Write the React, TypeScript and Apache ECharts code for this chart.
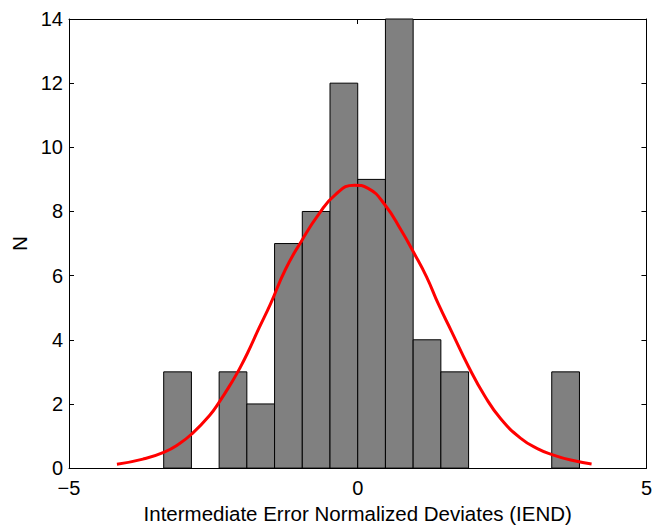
import React, { useEffect, useRef } from "react";
import * as echarts from "echarts";

// Histogram bins (IEND)
const binStart = -3.36;
const binWidth = 0.48;
const binCounts = [3, 0, 3, 2, 7, 8, 12, 9, 14, 4, 3, 0, 0, 0, 3];

// Fitted normal curve
const curveX = [-4.17, -3.72, -3.35, -3.09, -2.87, -2.57, -2.39, -2.17, -2.04, -1.91, -1.71, -1.51, -1.25, -0.97, -0.68, -0.39, -0.06, 0.18, 0.47, 0.76, 0.96, 1.19, 1.4, 1.62, 1.92, 2.2, 2.48, 2.83, 3.12, 3.37, 3.69, 4.05];
const curveY = [0.12, 0.28, 0.5, 0.76, 1.07, 1.63, 2.08, 2.71, 3.12, 3.58, 4.36, 5.12, 6.2, 7.09, 7.9, 8.52, 8.82, 8.72, 8.21, 7.39, 6.75, 5.97, 5.1, 4.28, 3.16, 2.25, 1.53, 0.92, 0.6, 0.42, 0.25, 0.13];

const xTicks = { min: -5, max: 5, interval: 5 };
const yTicks = { min: 0, max: 14, interval: 2 };

const xTitle = "Intermediate Error Normalized Deviates (IEND)";
const yTitle = "N";

export default function App() {
  const ref = useRef<HTMLDivElement>(null);
  useEffect(() => {
    if (!ref.current) return;
    document.body.style.margin = "0";
    const chart = echarts.init(ref.current, undefined, { renderer: "svg", width: 655, height: 529 });
    const font = "'Liberation Sans', Arial, Helvetica, sans-serif";
    const barData = binCounts.map((c, i) => [binStart + i * binWidth, binStart + (i + 1) * binWidth, c]);
    const axisLine = { show: true, onZero: false, lineStyle: { color: "#000", width: 1 } };
    const tick = { show: true, inside: true, length: 5, lineStyle: { color: "#000" } };
    const fmt = (v: number) => String(v).replace("-", "\u2212");
    chart.setOption({
      animation: false,
      backgroundColor: "#fff",
      grid: { left: 69, right: 7, top: 19, bottom: 52, containLabel: false },
      xAxis: [
        {
          type: "value",
          min: xTicks.min,
          max: xTicks.max,
          interval: xTicks.interval,
          position: "bottom",
          axisLine,
          axisTick: tick,
          axisLabel: { color: "#000", fontSize: 20, lineHeight: 16, fontFamily: font, margin: 12, formatter: fmt },
          splitLine: { show: false },
          name: xTitle,
          nameLocation: "middle",
          nameGap: 31,
          nameTextStyle: { color: "#000", fontSize: 20.5, fontFamily: font },
        },
        {
          type: "value",
          min: xTicks.min,
          max: xTicks.max,
          interval: xTicks.interval,
          position: "top",
          axisLine,
          axisTick: tick,
          axisLabel: { show: false },
          splitLine: { show: false },
        },
      ],
      yAxis: [
        {
          type: "value",
          min: yTicks.min,
          max: yTicks.max,
          interval: yTicks.interval,
          position: "left",
          axisLine,
          axisTick: tick,
          axisLabel: { color: "#000", fontSize: 20, lineHeight: 16, fontFamily: font, margin: 6 },
          splitLine: { show: false },
          name: yTitle,
          nameLocation: "middle",
          nameGap: 36,
          nameRotate: 90,
          nameTextStyle: { color: "#000", fontSize: 20.5, fontFamily: font },
        },
        {
          type: "value",
          min: yTicks.min,
          max: yTicks.max,
          interval: yTicks.interval,
          position: "right",
          axisLine,
          axisTick: tick,
          axisLabel: { show: false },
          splitLine: { show: false },
        },
      ],
      series: [
        {
          type: "custom",
          xAxisIndex: 0,
          yAxisIndex: 0,
          data: barData,
          encode: { x: [0, 1], y: 2 },
          renderItem: (params: any, api: any) => {
            const v = api.value(2);
            if (!v) return null;
            const p0 = api.coord([api.value(0), 0]);
            const p1 = api.coord([api.value(1), v]);
            return {
              type: "rect",
              shape: { x: p0[0], y: p1[1], width: p1[0] - p0[0], height: p0[1] - p1[1] },
              style: { fill: "#808080", stroke: "#000", lineWidth: 1 },
            };
          },
          z: 2,
        },
        {
          type: "line",
          xAxisIndex: 0,
          yAxisIndex: 0,
          data: curveX.map((x, i) => [x, curveY[i]]),
          smooth: 0.5,
          showSymbol: false,
          lineStyle: { color: "#ff0000", width: 3 },
          z: 3,
        },
      ],
    });
    return () => chart.dispose();
  }, []);
  return <div ref={ref} style={{ position: "absolute", left: 0, top: 0, width: 655, height: 529, overflow: "hidden" }} />;
}
